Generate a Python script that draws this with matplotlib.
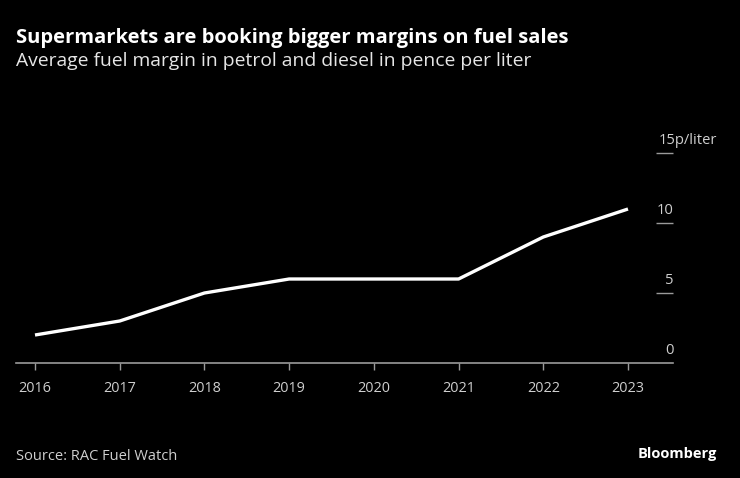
import numpy as np
import matplotlib
matplotlib.use('Agg')
import matplotlib.pyplot as plt
import matplotlib.transforms as mtransforms

years = [2016, 2017, 2018, 2019, 2020, 2021, 2022, 2023]
margin = [2.0, 3.0, 5.0, 6.0, 6.0, 6.0, 9.0, 11.0]
y_ticks = [0, 5, 10, 15]
y_labels = ['0', '5', '10', '15p/liter']

title = 'Supermarkets are booking bigger margins on fuel sales'
subtitle = 'Average fuel margin in petrol and diesel in pence per liter'
source = 'Source: RAC Fuel Watch'

plt.rcParams['font.family'] = ['Open Sans', 'DejaVu Sans']

fig = plt.figure(figsize=(7.4, 4.78), dpi=100, facecolor='black')
W, H = 740, 478
ax = fig.add_axes([16 / W, (H - 363) / H, (673 - 16) / W, 210 / H])
ax.set_facecolor('black')

ax.plot(years, margin, color='white', lw=2.4, solid_capstyle='butt')

ax.set_xlim(2016 - 19 / 84.7, 2023 + 45 / 84.7)
ax.set_ylim(0, 15)

for s in ['top', 'left', 'right']:
    ax.spines[s].set_visible(False)
ax.spines['bottom'].set_color('#9a9a9a')
ax.spines['bottom'].set_linewidth(1.2)

ax.set_xticks(years)
ax.set_xticklabels([str(y) for y in years])
ax.tick_params(axis='x', colors='#9a9a9a', labelcolor='#cfcfcf', length=5,
               width=1, pad=8, labelsize=10.4)

# right side ticks, labels drawn above them
ax.yaxis.tick_right()
ax.set_yticks(y_ticks[1:])
ax.tick_params(axis='y', direction='in', length=12, width=1, colors='#9a9a9a',
               labelright=False)
trans = mtransforms.blended_transform_factory(ax.transAxes, ax.transData)
right_off = trans + mtransforms.ScaledTranslation(1 / 100, 9 / 100, fig.dpi_scale_trans)
left_off = trans + mtransforms.ScaledTranslation(-14 / 100, 9 / 100, fig.dpi_scale_trans)
for v, lab in zip(y_ticks, y_labels):
    if v == y_ticks[-1]:
        # top label carries the unit, which hangs past the axis edge
        ax.text(1.0, v, lab, transform=left_off, ha='left', va='baseline',
                color='#cfcfcf', fontsize=10.6)
    else:
        ax.text(1.0, v, lab, transform=right_off, ha='right', va='baseline',
                color='#cfcfcf', fontsize=10.6)

fig.text(16 / W, 1 - 42.5 / H, title, color='white', fontsize=14.5, fontweight='bold',
         ha='left', va='baseline')
fig.text(16 / W, 1 - 66.5 / H, subtitle, color='#e6e6e6', fontsize=13.9,
         ha='left', va='baseline')
fig.text(16 / W, 1 - 460 / H, source, color='#cfcfcf', fontsize=10.5,
         ha='left', va='baseline')
fig.text(717 / W, 1 - 458 / H, 'Bloomberg', color='white', fontsize=10.5,
         fontweight='bold', ha='right', va='baseline')

fig.savefig('out.png', dpi=100, facecolor='black')
